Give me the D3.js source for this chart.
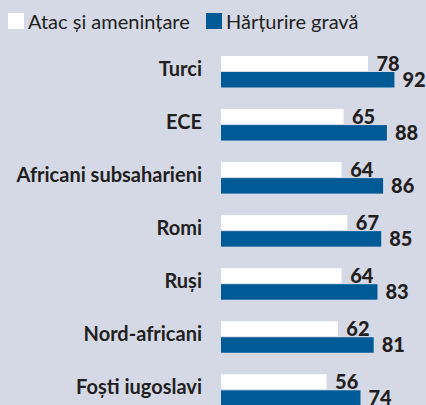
<!DOCTYPE html>
<html>
<head>
<meta charset="utf-8">
<script src="https://cdn.jsdelivr.net/npm/d3@7"></script>
<style>
  body { margin: 0; background: #d5d9e6; }
  svg { display: block; }
</style>
</head>
<body>
<div id="chart"></div>
<script>

// groups and values
var groups = ["Turci", "ECE", "Africani subsaharieni", "Romi", "Ruși", "Nord-africani", "Foști iugoslavi"];
var atac = [78, 65, 64, 67, 64, 62, 56];
var hartuire = [92, 88, 86, 85, 83, 81, 74];
var seriesNames = ["Atac și amenințare", "Hărțurire gravă"];
var seriesColors = ["#ffffff", "#005a96"];

window.onload = function() {

   var w = 426;
   var h = 405;
   var textColor = "#231f20";

   var svg = d3.select("#chart")
      .append("svg")
      .attr("width", w)
      .attr("height", h);

   svg.append("rect")
      .attr("width", w)
      .attr("height", h)
      .attr("fill", "#d5d9e6");

   // scales
   var x = d3.scaleLinear()
      .domain([0, 100])
      .range([221, 409.5]);

   var y = d3.scaleBand()
      .domain(groups)
      .range([56, 56 + groups.length * 53.05])
      .padding(0);

   // legend on top
   var legendX = [8, 206];
   var legend = svg.selectAll(".legend")
      .data(seriesNames)
      .enter()
      .append("g")
      .attr("class", "legend")
      .attr("transform", function(d, i) { return "translate(" + legendX[i] + ",13)"; });

   legend.append("rect")
      .attr("width", 16)
      .attr("height", 16)
      .attr("fill", function(d, i) { return seriesColors[i]; });

   legend.append("text")
      .attr("x", 20)
      .attr("y", 15.8)
      .attr("font-family", "Lato, sans-serif")
      .attr("font-size", "20px")
      .attr("fill", textColor)
      .text(function(d) { return d; });

   var rows = svg.selectAll(".row")
      .data(groups)
      .enter()
      .append("g")
      .attr("class", "row")
      .attr("transform", function(d) { return "translate(0," + y(d) + ")"; });

   // category names
   rows.append("text")
      .attr("x", 202)
      .attr("y", 19.5)
      .attr("text-anchor", "end")
      .attr("font-family", "Lato, sans-serif")
      .attr("font-weight", "bold")
      .attr("font-size", "20px")
      .attr("fill", textColor)
      .text(function(d) { return d; });

   // white bars
   rows.append("rect")
      .attr("x", x(0))
      .attr("y", 0)
      .attr("width", function(d, i) { return x(atac[i]) - x(0); })
      .attr("height", 15)
      .attr("fill", seriesColors[0]);

   // blue bars
   rows.append("rect")
      .attr("x", x(0))
      .attr("y", 16)
      .attr("width", function(d, i) { return x(hartuire[i]) - x(0); })
      .attr("height", 15.5)
      .attr("fill", seriesColors[1]);

   // value labels
   rows.append("text")
      .attr("x", function(d, i) { return x(atac[i]) + 8.5; })
      .attr("y", 14.8)
      .attr("font-family", "Lato, sans-serif")
      .attr("font-weight", "900")
      .attr("font-size", "20px")
      .attr("fill", textColor)
      .text(function(d, i) { return atac[i]; });

   rows.append("text")
      .attr("x", function(d, i) { return x(hartuire[i]) + 8; })
      .attr("y", 30.8)
      .attr("font-family", "Lato, sans-serif")
      .attr("font-weight", "900")
      .attr("font-size", "20px")
      .attr("fill", textColor)
      .text(function(d, i) { return hartuire[i]; });

};

</script>
</body>
</html>
